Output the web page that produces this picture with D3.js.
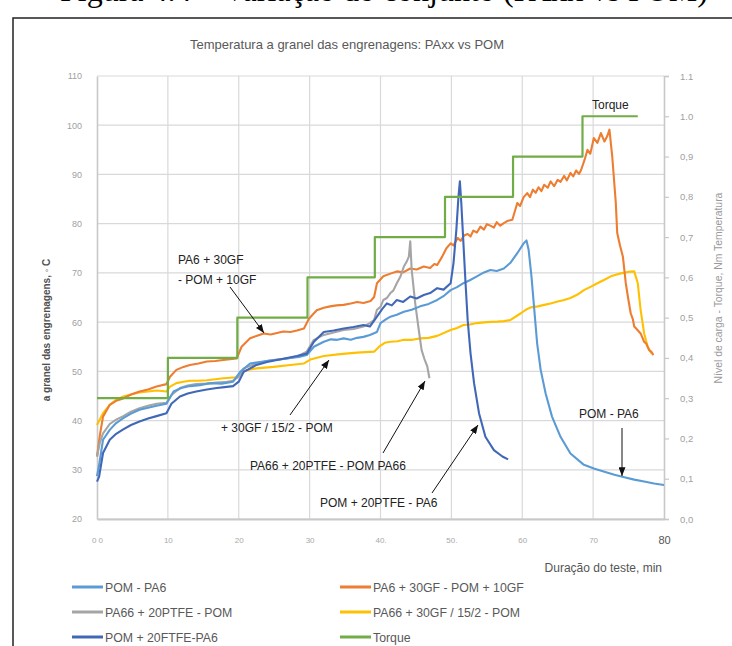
<!DOCTYPE html>
<html><head><meta charset="utf-8">
<script src="https://cdn.jsdelivr.net/npm/d3@7"></script>
<style>
html,body{margin:0;padding:0;background:#fff;}
svg{display:block;font-family:"Liberation Sans",Arial,sans-serif;}
</style></head>
<body>
<svg id="chart" width="732" height="646"></svg>
<script>
// ---------------- DATA ----------------
const xTickValues = [0,10,20,30,40,50,60,70,80];
const xTickLabels = ["0 0","10","20","30","40.","50.","60","70","80"];
const yTickValues = [20,30,40,50,60,70,80,90,100,110];
const y2TickValues = [0,0.1,0.2,0.3,0.4,0.5,0.6,0.7,0.8,0.9,1.0,1.1];
const y2TickLabels = ["0,0","0,1","0,2","0,3","0,4","0,5","0,6","0,7","0,8","0,9","1.0","1.1"];

const seriesNames = ["POM - PA6","PA6 + 30GF - POM + 10GF","PA66 + 20PTFE - POM","PA66 + 30GF / 15/2 - POM","POM + 20FTFE-PA6","Torque"];

// POM - PA6 (min, °C)
const pomPa6 = [[0,28.7],[0.3,31],[0.85,36.1],[1.8,38.1],[2.7,39.5],[3.7,40.5],[4.8,41.4],[6,42.2],[7.2,42.6],[8.4,43],[9.8,43.4],[10.8,45.9],[11.9,46.6],[13.1,47],[14.5,47.2],[16,47.6],[17.6,47.5],[19.2,47.9],[20.2,49.9],[21.6,51.6],[23,51.9],[24.4,52.2],[25.8,52.4],[27.3,52.7],[28.5,52.9],[29.6,53.3],[30.6,55],[32,56],[33,56.5],[33.9,56.4],[34.8,56.7],[35.8,56.4],[36.7,56.8],[37.6,57],[38.5,57.4],[39.5,58],[40,59.8],[40.7,60.5],[41.4,61.1],[42.3,61.5],[43.3,62.1],[44.4,62.5],[45.6,63.2],[46.8,63.7],[48,64.5],[49,65.4],[49.9,66.5],[50.8,67.1],[51.7,67.9],[52.6,68.5],[53.6,69.3],[54.6,70.1],[55.5,70.6],[56.4,70.4],[57.4,70.9],[58.3,72],[59.3,74],[60.2,76],[60.6,76.6],[60.9,74.7],[61.3,69.3],[61.7,62.5],[62.1,55.7],[62.6,50.3],[63.3,45.5],[64.2,40.8],[65.4,36.7],[66.8,33.3],[68.7,31],[70.2,30.2],[71.6,29.6],[73,29],[74.4,28.5],[75.8,28],[77.2,27.6],[78.6,27.2],[80,26.9]];

// PA6 + 30GF - POM + 10GF
const pa6Gf = [[0,32.7],[0.4,37],[0.85,40.8],[1.8,43.2],[2.7,44],[3.7,44.5],[4.8,45.3],[6,45.9],[7.2,46.3],[8.4,46.9],[9.8,47.4],[10.3,48.9],[11.2,50.3],[12.2,50.9],[13.1,51.3],[14.3,51.6],[15.5,52],[16.7,52.1],[17.8,52.3],[19.7,52.6],[20.4,55],[21.6,56.7],[22.5,57.2],[23.5,57.7],[24.5,57.5],[25.4,57.8],[26.3,58.1],[27.3,58.0],[28.2,58.3],[29.2,58.7],[29.9,60.7],[31,62.4],[32,62.9],[32.9,63.2],[33.8,63.4],[34.8,63.5],[35.8,63.8],[36.7,64.1],[37.6,63.9],[38.6,64.3],[39.1,65.1],[39.5,67.9],[40.4,69.3],[41.3,69.8],[42.3,70.3],[43.2,70.1],[44.2,70.9],[45.1,70.7],[46.1,71.3],[47,71.0],[47.6,71.8],[48,71.6],[48.7,73.3],[49.3,75],[49.9,76],[50.3,75.6],[50.9,77.1],[51.3,76.5],[51.8,77.6],[52.3,77.9],[52.7,77.4],[53.1,78.6],[53.6,78.2],[54.1,79.4],[54.6,78.8],[55,79.9],[55.5,79.6],[56,79.2],[56.4,80.3],[56.9,79.6],[57.4,80.1],[58,80.6],[58.6,80.8],[59.3,84.2],[59.7,83.6],[60.2,85.4],[60.7,86.2],[61.1,85.4],[61.5,86.9],[61.9,86.3],[62.3,87.4],[62.7,86.6],[63.1,87.9],[63.6,87.3],[64,88.6],[64.5,87.6],[65,88.9],[65.4,88.5],[65.9,89.7],[66.3,88.8],[66.8,90.3],[67.2,89.6],[67.6,90.8],[68,90.1],[68.3,90.9],[68.8,93],[69.2,95],[69.6,94.2],[70.1,97.4],[70.6,96.4],[71.1,98.4],[71.6,96.7],[72,97.8],[72.3,99.1],[72.7,93.6],[73.2,84.2],[73.4,78.1],[73.8,75.5],[74.2,73.3],[74.6,68],[74.9,65.2],[75.3,61.8],[75.6,60.6],[75.8,59.1],[76.2,58.5],[76.7,57.7],[77.2,56],[77.5,55.6],[77.9,54.3],[78.2,54.0],[78.5,53.3]];

// PA66 + 20PTFE - POM
const pa66Ptfe = [[0,32.7],[0.4,35.5],[0.85,37.4],[1.8,39.3],[2.7,40.2],[3.7,40.9],[4.8,41.8],[6,42.5],[7.2,43],[8.4,43.4],[9.8,43.6],[10.5,45.2],[11.7,46.6],[12.8,47.1],[14,47.4],[15.5,47.5],[16.9,47.7],[18,47.8],[19.2,48.1],[20,48.9],[20.7,50.6],[22.5,51.6],[24,52.1],[25.4,52.4],[26.8,52.6],[28.2,53],[29.6,54],[30.6,56.4],[32,57.4],[33.4,57.9],[34.8,58.4],[36.2,58.6],[37.6,59.1],[38.5,59.8],[39.1,60.4],[39.5,62.5],[40,63.1],[40.4,64.5],[40.9,64.9],[41.4,65.9],[41.8,66.4],[42.3,67.9],[42.8,69.2],[43.3,71.3],[43.7,72.3],[44,73.3],[44.2,76.4],[44.4,70.6],[44.9,63.8],[45.4,58.4],[45.8,54.3],[46.2,52.5],[46.6,51],[46.9,48.6]];

// PA66 + 30GF / 15/2 - POM
const pa66Gf = [[0,39.1],[0.4,40.2],[0.85,41.5],[1.8,43.2],[2.7,44.2],[3.7,44.9],[4.8,45.3],[6,45.7],[7.2,45.9],[8.4,46.1],[9.8,45.9],[10.3,46.9],[11.2,47.6],[12.2,47.9],[13.1,48.1],[14.3,48.1],[15.5,48.2],[16.7,48.4],[17.8,48.6],[19.7,48.8],[20.2,49.4],[20.7,50.1],[22.5,50.6],[24.9,50.9],[27.3,51.3],[29.2,51.6],[30.1,52.4],[32,53.1],[34.3,53.5],[36.7,53.8],[39.1,54],[39.8,55],[40.6,55.8],[41.4,56],[42.4,56.1],[43.3,56.4],[44.5,56.4],[45.6,56.7],[46.8,56.8],[48,57.2],[49.9,58.4],[50.8,58.8],[51.7,59.4],[52.6,59.5],[53.6,59.8],[55,60.0],[56.5,60.1],[57.4,60.2],[58.3,60.4],[59.8,61.8],[60.5,62.5],[61.2,63],[62.2,63.2],[63.1,63.5],[64,63.8],[65,64.2],[65.9,64.5],[66.8,64.9],[67.8,65.6],[68.7,66.5],[69.7,67.2],[70.6,67.9],[71.6,68.6],[72.5,69.3],[73.2,69.6],[73.9,69.9],[74.9,70.2],[75.8,70.3],[76.3,67.9],[76.7,62.5],[77.2,57.7],[77.7,55],[78.2,53.7]];

// POM + 20FTFE-PA6
const pomPtfe = [[0,27.6],[0.3,28.6],[0.85,33.4],[1.8,36.1],[2.7,37.3],[3.7,38.2],[4.8,39.1],[6,39.8],[7.2,40.4],[8.4,40.9],[9.8,41.5],[10.5,43.4],[11.7,44.9],[12.8,45.5],[14,45.9],[15.5,46.3],[16.9,46.6],[18,46.8],[19.2,47],[20,47.9],[20.7,49.9],[22.5,51.3],[24,51.9],[25.4,52.3],[26.8,52.7],[28.2,53.1],[29.6,53.6],[30.6,56],[32,58],[33.4,58.3],[34.8,58.7],[36.2,59.0],[37.6,59.4],[38.5,59.1],[39.5,61.1],[40.2,62.6],[40.9,63.8],[41.6,63.4],[42.3,64.5],[43.2,64.1],[44.2,65.2],[45.1,64.8],[46.1,65.5],[47,65.9],[48,66.9],[48.9,66.6],[49.9,67.9],[50.3,72],[50.7,78.7],[51,85.5],[51.2,88.6],[51.4,84.2],[51.7,76],[52,67.9],[52.3,60.4],[52.7,53.7],[53.2,47.6],[53.9,41.5],[54.8,36.7],[56,34],[57.2,32.7],[58,32.1]];

// Torque (min, N·m) – right axis
const torqueTimes = [0,10,19.8,29.7,39.2,49.1,58.7,68.5,76.3];
const torqueLevels = [0.3,0.4,0.5,0.6,0.7,0.8,0.9,1.0,1.0];

const seriesColors = ["#5b9bd5","#ed7d31","#a5a5a5","#ffc000","#4168b8","#70ad47"];

// ---------------- CHART ----------------
const svg = d3.select("#chart");
const L = 97, R = 664, T = 76, B = 519;
const x = d3.scaleLinear().domain([0,80]).range([L,R]);
const y = d3.scaleLinear().domain([20,110]).range([B,T]);
const y2 = d3.scaleLinear().domain([0,1.1]).range([B,T]);

// cut-off caption and frame
svg.append("text").attr("x",60).attr("y",1)
  .attr("font-family","'Liberation Serif','Times New Roman',serif").attr("font-size",32).attr("fill","#000")
  .text("Figura 4.4 – Variação do conjunto (PAxx vs POM)");
svg.append("path").attr("d","M13,646 L13,18 L732,18").attr("fill","none").attr("stroke","#222").attr("stroke-width",1.5);

// title
svg.append("text").attr("x",347).attr("y",49).attr("text-anchor","middle")
  .attr("font-size",13).attr("fill","#595959").text("Temperatura a granel das engrenagens: PAxx vs POM");

// grid
const gGrid = svg.append("g");
gGrid.selectAll("line.h").data(yTickValues).join("line")
  .attr("x1",L).attr("x2",R).attr("y1",d=>y(d)).attr("y2",d=>y(d))
  .attr("stroke","#d9d9d9").attr("stroke-width",1.2);
gGrid.selectAll("line.v").data(xTickValues.slice(1,-1)).join("line")
  .attr("x1",d=>x(d)).attr("x2",d=>x(d)).attr("y1",T).attr("y2",B)
  .attr("stroke","#d9d9d9").attr("stroke-width",1.2);

// axes
const axL = svg.append("g").attr("transform",`translate(${L},0)`)
  .call(d3.axisLeft(y).tickValues(yTickValues).tickSize(0).tickPadding(15).tickFormat(d3.format("d")));
axL.select(".domain").attr("stroke","#c8c8c8").attr("stroke-width",1.6);
axL.selectAll("text").attr("fill","#a0a0a0").attr("font-size",9).attr("font-family","'Liberation Sans',Arial,sans-serif");

const axB = svg.append("g").attr("transform",`translate(0,${B})`)
  .call(d3.axisBottom(x).tickValues(xTickValues).tickSize(0).tickPadding(18).tickFormat((d,i)=>xTickLabels[i]));
axB.select(".domain").attr("stroke","#c8c8c8").attr("stroke-width",1.8);
axB.selectAll("text").attr("fill","#a8a8a8").attr("font-size",8).attr("font-family","'Liberation Sans',Arial,sans-serif");
axB.selectAll(".tick").filter(d=>d===80).select("text").attr("fill","#555").attr("font-size",11).attr("dy","0.6em");

const axR = svg.append("g").attr("transform",`translate(${R},0)`)
  .call(d3.axisRight(y2).tickValues(y2TickValues).tickSize(5).tickPadding(11).tickFormat((d,i)=>y2TickLabels[i]));
axR.select(".domain").attr("stroke","#c8c8c8").attr("stroke-width",1.6);
axR.selectAll("line").attr("stroke","#c8c8c8").attr("stroke-width",1.2);
axR.selectAll("text").attr("fill","#a0a0a0").attr("font-size",9.5).attr("font-family","'Liberation Sans',Arial,sans-serif");

// axis titles
svg.append("text").attr("transform","translate(50,330) rotate(-90)").attr("text-anchor","middle")
  .attr("font-size",10).attr("font-weight","bold").attr("fill","#505050").text("a granel das engrenagens, ◦ C");
svg.append("text").attr("transform","translate(722,288) rotate(-90)").attr("text-anchor","middle")
  .attr("font-size",10.4).attr("fill","#9a9a9a").text("Nível de carga - Torque, Nm Temperatura");
svg.append("text").attr("x",662).attr("y",572).attr("text-anchor","end")
  .attr("font-size",12).attr("fill","#555").text("Duração do teste, min");

// series lines
const line = d3.line().x(d=>x(d[0])).y(d=>y(d[1]));
const tempSeries = [pomPa6, pa6Gf, pa66Ptfe, pa66Gf, pomPtfe];
const gLines = svg.append("g").attr("fill","none").attr("stroke-linejoin","round");
[3,1,2,0,4].forEach(i=>{
  gLines.append("path").datum(tempSeries[i]).attr("d",line)
    .attr("stroke",seriesColors[i]).attr("stroke-width",2.1);
});
const torqueData = torqueTimes.map((t,i)=>[t,torqueLevels[i]]);
gLines.append("path").datum(torqueData)
  .attr("d",d3.line().x(d=>x(d[0])).y(d=>y2(d[1])).curve(d3.curveStepAfter))
  .attr("stroke",seriesColors[5]).attr("stroke-width",2.2);

// annotations
const defs = svg.append("defs");
defs.append("marker").attr("id","ah").attr("viewBox","0 0 10 8").attr("refX",10).attr("refY",4)
  .attr("markerWidth",9).attr("markerHeight",7).attr("markerUnits","userSpaceOnUse").attr("orient","auto")
  .append("path").attr("d","M0,0 L10,4 L0,8 Z").attr("fill","#111");
const gA = svg.append("g").attr("font-size",12).attr("fill","#222");
const notes = [
  {t:"PA6 + 30GF", x:178, y:264},
  {t:"- POM + 10GF", x:178, y:284},
  {t:"+ 30GF / 15/2 - POM", x:221, y:432},
  {t:"PA66 + 20PTFE - POM PA66", x:250, y:470},
  {t:"POM + 20PTFE - PA6", x:320, y:507},
  {t:"POM - PA6", x:579, y:418},
  {t:"Torque", x:592, y:109}
];
notes.forEach(n=>gA.append("text").attr("x",n.x).attr("y",n.y).text(n.t));
const arrows = [
  [230,287,264,333],[290,415,329,360],[383,453,425,381],[432,493,478,425],[622,428,622,476]
];
arrows.forEach(a=>svg.append("line").attr("x1",a[0]).attr("y1",a[1]).attr("x2",a[2]).attr("y2",a[3])
  .attr("stroke","#111").attr("stroke-width",1).attr("marker-end","url(#ah)"));

// legend
const legPos = [[72,587],[340,587],[72,612],[340,612],[72,637],[340,637]];
const gLeg = svg.append("g");
seriesNames.forEach((n,i)=>{
  const [lx,ly] = legPos[i];
  gLeg.append("line").attr("x1",lx).attr("x2",lx+31).attr("y1",ly).attr("y2",ly)
    .attr("stroke",seriesColors[i]).attr("stroke-width",3);
  gLeg.append("text").attr("x",lx+33).attr("y",ly+4.5).attr("font-size",12.3).attr("fill","#595959").text(n);
});
</script>
</body></html>
